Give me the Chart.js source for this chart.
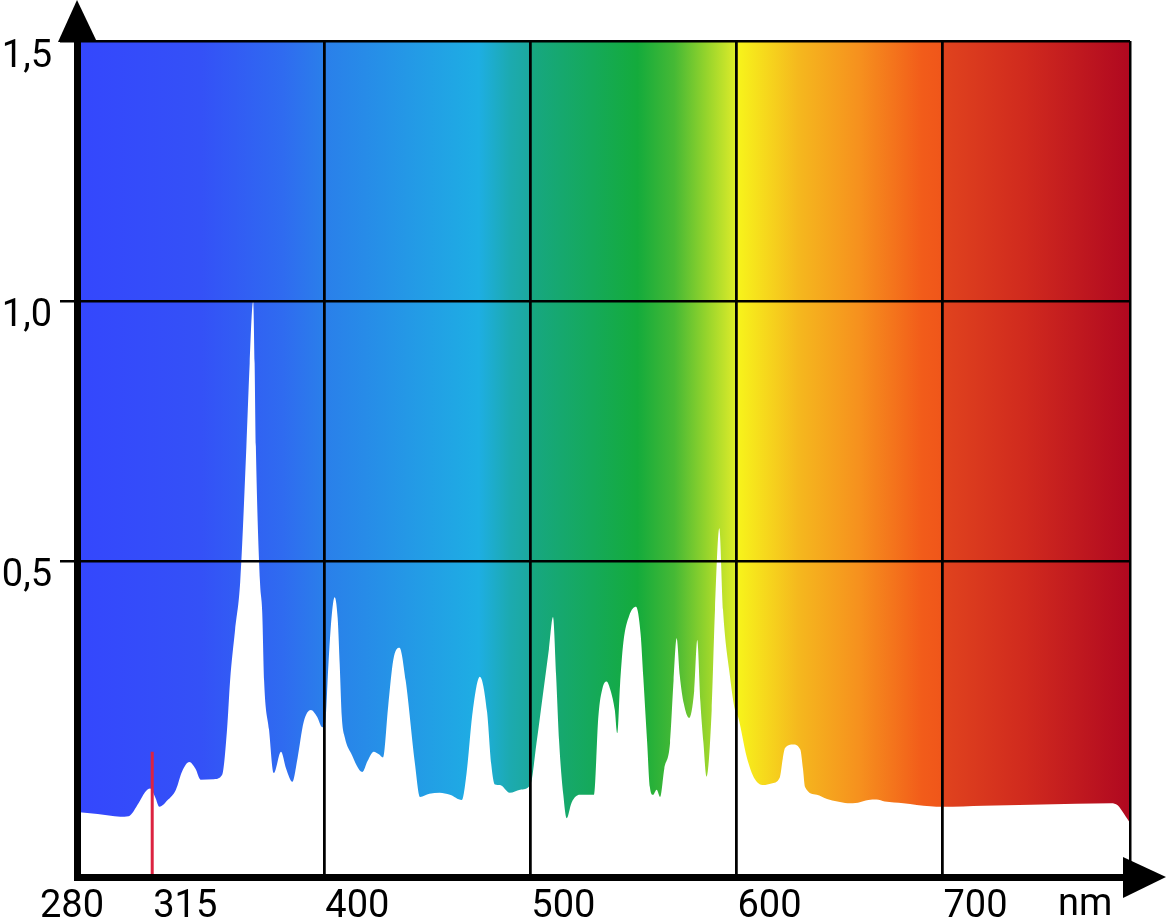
<!DOCTYPE html>
<html>
<head>
<meta charset="utf-8">
<script src="https://cdn.jsdelivr.net/npm/chart.js@4"></script>
<style>
  html, body { margin: 0; padding: 0; background: #fff; }
  #wrap { width: 1167px; height: 922px; position: relative; }
</style>
</head>
<body>
<div id="wrap"><canvas id="spectrum"></canvas></div>
<script>
// --- data (nm / relative intensity) ---
const wavelengths = [
  280, 290, 301, 305, 310, 313, 315.5, 318, 320, 324, 328, 331, 334.5, 337.5, 340, 346.5,
  350.4, 352.8, 354.3, 356.7, 359.2, 362.2, 363.8, 365.5, 366.2, 366.8, 368.8, 369.9, 370.8, 373.2, 375.5,
  379, 381.5, 384.5, 387, 390, 393.5, 396.5, 399, 400.5, 402, 403.5, 405, 406.5, 407.5, 408.5, 410,
  413, 418.5, 421, 424, 426.5, 428.5, 431, 433.5, 436.5, 439.5, 444, 446.5, 451, 456, 461, 466.7,
  469, 472, 475.5, 479, 481, 482.8, 485.3, 490, 495, 500, 503, 506, 509, 511, 512.5, 514, 516,
  517.6, 520, 524, 531, 533, 535, 537, 539, 541, 542.2, 543.5, 545.1, 548, 551.3, 553.5, 554.8,
  556.7, 558, 559.5, 561.3, 563, 565, 567.8, 569.5, 571, 572.5, 574.5, 577, 579.5, 581, 582.5,
  584, 585.5, 588, 589.6, 591.7, 593.5, 596.9, 599.3, 600.8, 605, 609, 613, 617, 621, 622.5,
  623.6, 627.5, 631, 632.3, 633.3, 639, 644, 649, 654, 659, 664, 668, 672, 681, 694, 700,
  720, 743, 765, 782, 785, 787, 789, 791
];
const intensity = [
  0.017, 0.013, 0.008, 0.009, 0.035, 0.055, 0.062, 0.045, 0.027, 0.04, 0.06, 0.095, 0.113, 0.1, 0.079, 0.08,
  0.088, 0.175, 0.27, 0.367, 0.46, 0.72, 0.88, 1.0, 0.88, 0.72, 0.46, 0.4, 0.27, 0.175, 0.092,
  0.133, 0.1, 0.075, 0.12, 0.19, 0.213, 0.2, 0.18, 0.19, 0.3, 0.39, 0.43, 0.39, 0.3, 0.2, 0.16,
  0.13, 0.094, 0.115, 0.133, 0.128, 0.122, 0.22, 0.31, 0.333, 0.27, 0.11, 0.046, 0.052, 0.054, 0.05, 0.04,
  0.09, 0.21, 0.277, 0.21, 0.11, 0.07, 0.069, 0.054, 0.06, 0.069, 0.15, 0.24, 0.33, 0.392, 0.28, 0.15, 0.05,
  0.005, 0.035, 0.05, 0.05, 0.2, 0.255, 0.268, 0.25, 0.213, 0.169, 0.26, 0.342, 0.395, 0.412, 0.36, 0.277,
  0.15, 0.065, 0.05, 0.06, 0.046, 0.1, 0.15, 0.27, 0.351, 0.28, 0.225, 0.198, 0.25, 0.348, 0.23,
  0.15, 0.085, 0.213, 0.406, 0.563, 0.406, 0.277, 0.213, 0.2, 0.123, 0.08, 0.069, 0.072, 0.083, 0.12,
  0.14, 0.147, 0.137, 0.1, 0.065, 0.05, 0.042, 0.037, 0.034, 0.035, 0.04, 0.041, 0.037, 0.034, 0.028, 0.027,
  0.029, 0.031, 0.033, 0.034, 0.03, 0.02, 0.008, -0.004
];

const xTickValues = [280, 315, 400, 500, 600, 700];
const xGridValues = [400, 500, 600, 700, 791];
const yTickValues = [0.5, 1.0, 1.5];
const uvbLimit = [316.5, 0.133];   // red marker at the 315 label

// colour band behind the curve
const bandNm = [280, 340, 380, 400, 440, 475, 490, 499.5, 500.5, 530, 552, 570, 585, 599.5, 600.5, 630, 660, 690, 699.5, 700.5, 740, 791];
const bandColors = ['#3447fd', '#3451f7', '#2f6bf0', '#2a7fea', '#2498e6', '#1eaee3', '#1caab0', '#1ca99e', '#17a782', '#15a95a', '#14ab3c',
  '#46b935', '#93d32c', '#dceb2a', '#f7f41b', '#f5b81e', '#f6901e', '#f25c1a', '#f0561a', '#e0431e', '#d02a1e', '#b00820'];

// --- plugins ---
const spectrumBackground = {
  id: 'spectrumBackground',
  beforeDatasetsDraw(chart) {
    const { ctx, chartArea: a, scales: { x } } = chart;
    const g = ctx.createLinearGradient(a.left, 0, a.right, 0);
    bandNm.forEach((nm, i) => {
      const t = (x.getPixelForValue(nm) - a.left) / (a.right - a.left);
      g.addColorStop(Math.min(1, Math.max(0, t)), bandColors[i]);
    });
    ctx.save();
    ctx.fillStyle = g;
    ctx.fillRect(a.left, a.top, a.right - a.left, a.bottom - a.top);
    ctx.restore();
  }
};

const axisDecor = {
  id: 'axisDecor',
  afterDraw(chart) {
    const { ctx, chartArea: a, scales: { x } } = chart;
    ctx.save();
    ctx.fillStyle = '#000';
    // arrow heads
    ctx.beginPath();
    ctx.moveTo(a.left, 0);
    ctx.lineTo(a.left + 20, a.top + 1);
    ctx.lineTo(a.left - 19, a.top + 1);
    ctx.closePath();
    ctx.fill();
    ctx.beginPath();
    ctx.moveTo(a.right - 7, a.bottom - 20);
    ctx.lineTo(a.right + 36, a.bottom);
    ctx.lineTo(a.right - 7, a.bottom + 21);
    ctx.closePath();
    ctx.fill();
    // x labels
    ctx.font = '38px Roboto';
    ctx.textBaseline = 'alphabetic';
    xTickValues.forEach(v => {
      let px = x.getPixelForValue(v);
      if (v === xTickValues[0]) {
        ctx.textAlign = 'center';
        ctx.fillText(String(v), px - 5, 917);
      } else {
        if (v === 315) px = x.getPixelForValue(uvbLimit[0]);
        ctx.textAlign = 'left';
        ctx.fillText(String(v), px + 1, 917);
      }
    });
    ctx.textAlign = 'left';
    ctx.fillText('nm', a.right - 72, 915);
    ctx.restore();
  }
};

const ctx = document.getElementById('spectrum').getContext('2d');
new Chart(ctx, {
  type: 'line',
  data: {
    datasets: [
      {
        label: 'UVB',
        data: [{ x: uvbLimit[0], y: uvbLimit[1] }, { x: uvbLimit[0], y: -0.2 }],
        borderColor: '#dc2340',
        borderWidth: 3,
        pointRadius: 0,
        fill: false,
        order: 0
      },
      {
        label: 'spectrum',
        data: wavelengths.map((w, i) => ({ x: w, y: intensity[i] })),
        borderWidth: 0,
        borderColor: 'rgba(255,255,255,0)',
        backgroundColor: '#ffffff',
        pointRadius: 0,
        fill: 'start',
        cubicInterpolationMode: 'monotone',
        order: 1
      }
    ]
  },
  options: {
    responsive: true,
    maintainAspectRatio: false,
    animation: false,
    events: [],
    layout: { padding: { top: 41, right: 37, left: 0, bottom: 0 } },
    plugins: { legend: { display: false }, tooltip: { enabled: false } },
    scales: {
      x: {
        type: 'linear',
        min: 280,
        max: 791,
        afterBuildTicks: s => { s.ticks = xGridValues.concat(xTickValues).map(v => ({ value: v })); },
        afterFit: s => { s.height = 45; },
        grid: {
          z: 1,
          lineWidth: 2.5,
          drawTicks: false,
          color: c => (c.tick && xGridValues.includes(c.tick.value)) ? '#000' : 'rgba(0,0,0,0)'
        },
        border: { z: 2, color: '#000', width: 7 },
        ticks: { display: false }
      },
      y: {
        min: -0.108,
        max: 1.5,
        afterBuildTicks: s => { s.ticks = yTickValues.map(v => ({ value: v })); },
        afterFit: s => { s.width = 77; },
        grid: { z: 1, color: '#000', lineWidth: 2.5, tickLength: 17 },
        border: { z: 2, color: '#000', width: 7 },
        ticks: {
          z: 2,
          color: '#000',
          padding: 8,
          labelOffset: 16,
          font: { family: 'Roboto', size: 38 },
          callback: v => v.toFixed(1).replace('.', ',')
        }
      }
    }
  },
  plugins: [spectrumBackground, axisDecor]
});
</script>
</body>
</html>
